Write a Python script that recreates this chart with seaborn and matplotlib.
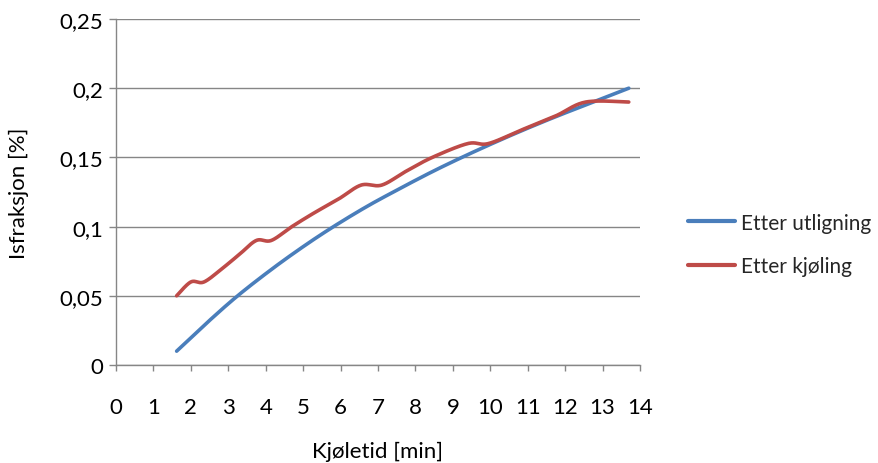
import numpy as np
import pandas as pd
import matplotlib
matplotlib.use("Agg")
import matplotlib.pyplot as plt
import seaborn as sns

# Measured ice fraction versus cooling time
series_names = ["Etter utligning", "Etter kjøling"]

utligning_t = [1.62, 2.45, 3.25, 4.15, 5.0, 5.8, 6.7, 7.55, 8.4, 9.2, 10.05, 10.9, 11.8, 12.75, 13.7]
utligning_y = [0.01, 0.031, 0.05, 0.069, 0.0855, 0.0998, 0.1145, 0.127, 0.139, 0.1495, 0.16, 0.17, 0.18, 0.19, 0.20]

kjoling_t = [1.62, 2.0, 2.35, 2.85, 3.3, 3.75, 4.15, 4.7, 5.3, 5.95, 6.55, 7.1, 7.75, 8.45,
             9.4, 9.95, 10.85, 11.75, 12.55, 13.7]
kjoling_y = [0.05, 0.06, 0.06, 0.07, 0.08, 0.09, 0.09, 0.10, 0.11, 0.12, 0.13, 0.13, 0.14, 0.15,
             0.16, 0.16, 0.17, 0.18, 0.19, 0.19]

x_ticks = list(range(0, 15))
y_ticks = [0, 0.05, 0.1, 0.15, 0.2, 0.25]

colors = {"Etter utligning": "#4A7EBB", "Etter kjøling": "#BE4B48"}


def smooth(xs, ys, n=30):
    """Bezier smoothing through the points (control points at 1/6 of neighbour spans)."""
    p = np.column_stack([xs, ys]).astype(float)
    p = np.vstack([p[0], p, p[-1]])
    out = []
    t = np.linspace(0, 1, n, endpoint=False)[:, None]
    for i in range(1, len(p) - 2):
        p0, p1, p2, p3 = p[i - 1], p[i], p[i + 1], p[i + 2]
        c1 = p1 + (p2 - p0) / 6
        c2 = p2 - (p3 - p1) / 6
        seg = ((1 - t) ** 3) * p1 + 3 * ((1 - t) ** 2) * t * c1 + 3 * (1 - t) * t ** 2 * c2 + t ** 3 * p2
        out.append(seg)
    out.append(p[-2][None, :])
    return np.vstack(out)


frames = []
for name, xs, ys in [(series_names[0], utligning_t, utligning_y),
                     (series_names[1], kjoling_t, kjoling_y)]:
    s = smooth(xs, ys)
    frames.append(pd.DataFrame({"t": s[:, 0], "y": s[:, 1], "serie": name}))
df = pd.concat(frames, ignore_index=True)

sns.set_theme(style="white")
plt.rcParams["font.family"] = ["Lato", "DejaVu Sans"]

fig = plt.figure(figsize=(8.79, 4.64), dpi=100)
ax = fig.add_axes([116 / 879, 1 - 366 / 464, (640 - 116) / 879, (366 - 20) / 464])

sns.lineplot(data=df, x="t", y="y", hue="serie", hue_order=series_names, palette=colors,
             sort=False, estimator=None, units="serie", linewidth=2.6, ax=ax,
             legend=False)

ax.set_xlim(0, 14)
ax.set_ylim(0, 0.25)
ax.set_xticks(x_ticks)
ax.set_yticks(y_ticks)
ax.set_xticklabels([str(v) for v in x_ticks])
ax.set_yticklabels([f"{v:g}".replace(".", ",") for v in y_ticks])

grid_color = "#868686"
ax.yaxis.grid(True, color=grid_color, linewidth=1.0)
ax.xaxis.grid(False)
ax.set_axisbelow(True)
for side in ["top", "right"]:
    ax.spines[side].set_visible(False)
for side in ["left", "bottom"]:
    ax.spines[side].set_color(grid_color)
    ax.spines[side].set_linewidth(1.0)

fs = 16
ax.tick_params(axis="x", which="both", bottom=True, direction="out", length=4,
               width=1, color=grid_color, pad=19, labelsize=fs, labelcolor="black")
ax.tick_params(axis="y", which="both", left=True, direction="out", length=5,
               width=1, color=grid_color, pad=4, labelsize=fs, labelcolor="black")

ax.set_xlabel("Kjøletid [min]", fontsize=fs, color="black", labelpad=17)
ax.set_ylabel("Isfraksjon [%]", fontsize=fs, color="black", labelpad=22)

handles = [plt.Line2D([], [], color=colors[n], linewidth=3) for n in series_names]
fig.legend(handles, series_names, loc="center left", bbox_to_anchor=(673 / 879, 1 - 245.5 / 464),
           frameon=False, fontsize=15, handlelength=2.3, handletextpad=0.25,
           labelspacing=1.15, borderpad=0.2)

fig.savefig("out.png", dpi=100)
